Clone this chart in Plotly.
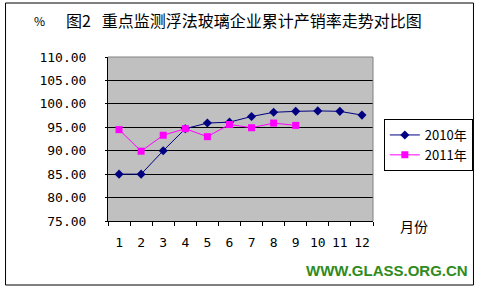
import plotly.graph_objects as go

months = [str(i) for i in range(1, 13)]
y2010 = [85.0, 85.0, 90.0, 94.7, 95.9, 96.1, 97.3, 98.2, 98.4, 98.5, 98.4, 97.6]
y2011 = [94.5, 89.9, 93.3, 94.7, 93.0, 95.6, 94.9, 95.9, 95.4]
ytick_vals = [75, 80, 85, 90, 95, 100, 105, 110]
ytick_text = ["75.00", "80.00", "85.00", "90.00", "95.00", "100.00", "105.00", "110.00"]

NUM_FONT = "DejaVu Sans Mono"
CJK_FONT = "Noto Sans CJK SC"

fig = go.Figure()
fig.add_trace(go.Scatter(
    x=months, y=y2010, name="2010年", mode="lines+markers",
    line=dict(color="#000080", width=1),
    marker=dict(symbol="diamond", size=7, color="#000080"),
))
fig.add_trace(go.Scatter(
    x=months[:len(y2011)], y=y2011, name="2011年", mode="lines+markers",
    line=dict(color="#ff00ff", width=1),
    marker=dict(symbol="square", size=7, color="#ff00ff"),
))

L, R, T, B = 108, 377, 57, 221
W, H = 485, 292
pw, ph = R - L, B - T

def px(x):
    return (x - L) / pw

def py(y):
    return (B - y) / ph

fig.update_layout(
    width=W, height=H,
    margin=dict(l=L, r=W - R, t=T, b=H - B),
    paper_bgcolor="white",
    plot_bgcolor="#c0c0c0",
    showlegend=True,
    legend=dict(
        x=px(388), y=py(119), xanchor="left", yanchor="top",
        bgcolor="white", bordercolor="black", borderwidth=1,
        font=dict(family=CJK_FONT, size=13, color="black"),
        itemwidth=30, tracegroupgap=0,
    ),
    xaxis=dict(
        type="category", range=[-0.5, 11.5],
        showgrid=False, showline=True, linecolor="black", linewidth=1,
        ticks="outside", ticklen=4, tickcolor="black", tickson="boundaries",
        tickfont=dict(family=NUM_FONT, size=13, color="black"),
        tickangle=0, ticklabelstandoff=9,
        mirror=False, zeroline=False, fixedrange=True,
    ),
    yaxis=dict(
        range=[75, 110], tickvals=ytick_vals, ticktext=ytick_text,
        showgrid=True, gridcolor="black", gridwidth=1,
        showline=True, linecolor="black", linewidth=1,
        ticks="outside", ticklen=2, tickcolor="black",
        tickfont=dict(family=NUM_FONT, size=13, color="black"),
        ticklabelstandoff=16, zeroline=False, fixedrange=True,
    ),
    shapes=[
        dict(type="line", xref="paper", yref="paper", x0=0, x1=1, y0=1, y1=1,
             line=dict(color="#808080", width=1)),
        dict(type="line", xref="paper", yref="paper", x0=1, x1=1, y0=0, y1=1,
             line=dict(color="#808080", width=1)),
        dict(type="rect", xref="paper", yref="paper",
             x0=px(4), x1=px(479), y0=py(285), y1=py(3),
             line=dict(color="black", width=1), fillcolor="rgba(0,0,0,0)"),
    ],
    annotations=[
        dict(text="%", xref="paper", yref="paper", x=px(38), y=py(20),
             xanchor="center", yanchor="middle", showarrow=False,
             font=dict(family=CJK_FONT, size=12, color="black")),
        dict(text="图2   重点监测浮法玻璃企业累计产销率走势对比图", xref="paper", yref="paper",
             x=px(63), y=py(20), xanchor="left", yanchor="middle", showarrow=False,
             font=dict(family=CJK_FONT, size=16, color="black")),
        dict(text="月份", xref="paper", yref="paper", x=px(419), y=py(226),
             xanchor="center", yanchor="middle", showarrow=False,
             font=dict(family=CJK_FONT, size=14, color="black")),
        dict(text="<b>WWW.GLASS.ORG.CN</b>", xref="paper", yref="paper",
             x=px(475), y=py(270), xanchor="right", yanchor="middle", showarrow=False,
             font=dict(family="Liberation Sans", size=15, color="#2e8b20")),
    ],
)

fig.write_html("out.html")
